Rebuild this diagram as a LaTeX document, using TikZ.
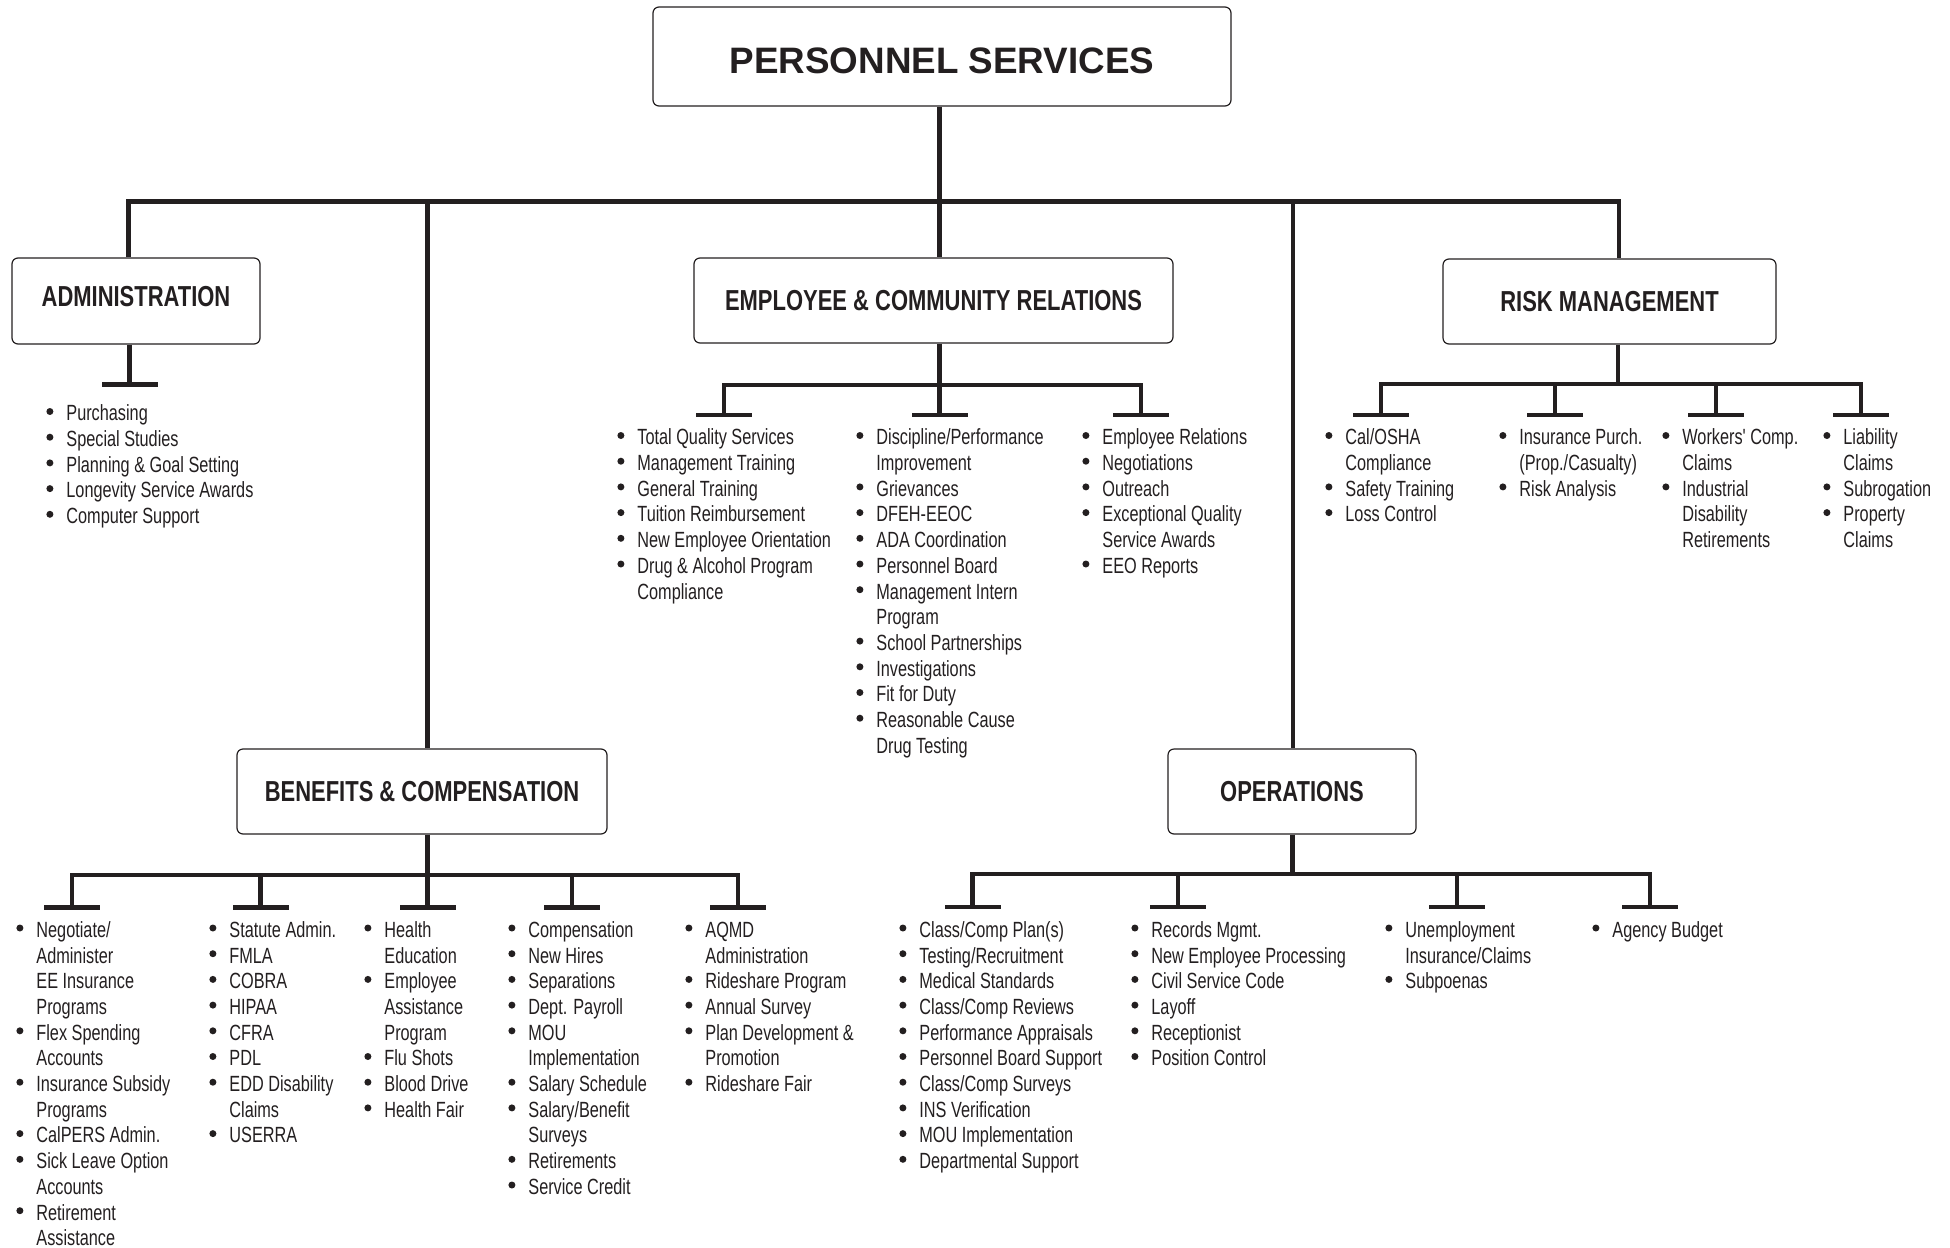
\documentclass[tikz,border=0pt]{standalone}
\usepackage{fontspec}
\newfontfamily\bodyfont[FakeStretch=0.74]{Liberation Sans}
\newfontfamily\headfont[FakeStretch=0.76]{Liberation Sans}
\newfontfamily\titlefont{Liberation Sans}
\definecolor{ink}{HTML}{231F20}
\newcommand\bi{\makebox[10pt][l]{\tikz[baseline=0pt]\fill[ink] (1.75pt,4.65pt) circle[radius=1.75pt];}}
\newcommand\ci{\hspace*{10pt}}
\newcommand\fs{\rule{0pt}{8.2pt}}
\begin{document}
\begin{tikzpicture}[x=0.5pt,y=-0.5pt,
  box/.style={draw=ink,line width=0.6pt,rounded corners=3pt,inner sep=0pt,
    font=\headfont\bfseries\fontsize{14.45pt}{17pt}\selectfont,text=ink},
  conn/.style={draw=ink,line width=2.4pt},
  tee/.style={fill=ink,minimum width=28pt,minimum height=2.4pt,inner sep=0pt,outer sep=0pt},
  lst/.style={anchor=north west,inner sep=0pt,align=left,text=ink,
    font=\bodyfont\fontsize{11pt}{12.85pt}\selectfont}]
\useasboundingbox (0,0) rectangle (1950,1248);

% ---- boxes
\node[box,minimum width=289pt,minimum height=49.5pt,
  font=\titlefont\bfseries\fontsize{18.4pt}{22pt}\selectfont] (ps) at (942,56.5)
  {\raisebox{-2.2pt}[\height][\depth]{PERSONNEL SERVICES}};
\node[box,minimum width=124pt,minimum height=43pt] (adm) at (136,301)
  {\raisebox{2.3pt}[\height][\depth]{ADMINISTRATION}};
\node[box,minimum width=239.5pt,minimum height=42.5pt] (ecr) at (933.5,300.5)
  {EMPLOYEE \& COMMUNITY RELATIONS};
\node[box,minimum width=166.5pt,minimum height=42.5pt] (rsk) at (1609.5,301.5)
  {RISK MANAGEMENT};
\node[box,minimum width=185pt,minimum height=42.5pt] (ben) at (422,791.5)
  {BENEFITS \& COMPENSATION};
\node[box,minimum width=124pt,minimum height=42.5pt] (ops) at (1292,791.5)
  {OPERATIONS};

% ---- main bar
\coordinate (mL) at (128.5,201.5);
\coordinate (mR) at (1619,201.5);
\coordinate (cx) at (939.5,201.5);
\coordinate (bx) at (427.5,201.5);
\coordinate (ox) at (1293,201.5);
\draw[conn] (mL |- adm.north) -- (mL) -- (mR) -- (mR |- rsk.north);
\draw[conn] (cx |- ps.south) -- (cx |- ecr.north);
\draw[conn] (bx) -- (bx |- ben.north);
\draw[conn] (ox) -- (ox |- ops.north);

% ---- administration
\node[tee] (a1) at (129.5,384.5) {};
\draw[conn] (adm.south -| a1) -- (a1.center);

% ---- employee & community relations
\coordinate (eb) at (0,385);
\node[tee] (e1) at (724,415) {};
\node[tee] (e2) at (939.5,415) {};
\node[tee] (e3) at (1141,415) {};
\draw[conn] (e1.center) -- (e1 |- eb) -- (e3 |- eb) -- (e3.center);
\draw[conn] (ecr.south -| e2) -- (e2.center);

% ---- risk management
\coordinate (rb) at (0,384);
\coordinate (rx) at (1618,384);
\node[tee] (r1) at (1381,415) {};
\node[tee] (r2) at (1555,415) {};
\node[tee] (r3) at (1716,415) {};
\node[tee] (r4) at (1861,415) {};
\draw[conn] (rsk.south -| rx) -- (rx);
\draw[conn] (r1.center) -- (r1 |- rb) -- (r4 |- rb) -- (r4.center);
\draw[conn] (r2 |- rb) -- (r2.center);
\draw[conn] (r3 |- rb) -- (r3.center);

% ---- benefits & compensation
\coordinate (bb) at (0,875);
\node[tee] (b1) at (72,907.5) {};
\node[tee] (b2) at (260.5,907.5) {};
\node[tee] (b3) at (427.5,907.5) {};
\node[tee] (b4) at (572,907.5) {};
\node[tee] (b5) at (738,907.5) {};
\draw[conn] (b1.center) -- (b1 |- bb) -- (b5 |- bb) -- (b5.center);
\draw[conn] (ben.south -| b3) -- (b3.center);
\draw[conn] (b2 |- bb) -- (b2.center);
\draw[conn] (b4 |- bb) -- (b4.center);

% ---- operations
\coordinate (ob) at (0,874);
\coordinate (ox2) at (1292.5,874);
\node[tee] (o1) at (972.5,907) {};
\node[tee] (o2) at (1178,907) {};
\node[tee] (o3) at (1457,907) {};
\node[tee] (o4) at (1650,907) {};
\draw[conn] (ops.south -| ox2) -- (ox2);
\draw[conn] (o1.center) -- (o1 |- ob) -- (o4 |- ob) -- (o4.center);
\draw[conn] (o2 |- ob) -- (o2.center);
\draw[conn] (o3 |- ob) -- (o3.center);

% ---- lists
\node[lst] (adm-l) at (46,404) {\fs\bi Purchasing\\ \bi Special Studies\\
  \bi Planning \& Goal Setting\\ \bi Longevity Service Awards\\ \bi Computer Support};

\node[lst] (ecr-l1) at (617,428) {\fs\bi Total Quality Services\\ \bi Management Training\\
  \bi General Training\\ \bi Tuition Reimbursement\\ \bi New Employee Orientation\\
  \bi Drug \& Alcohol Program\\ \ci Compliance};
\node[lst] (ecr-l2) at (856,428) {\fs\bi Discipline/Performance\\ \ci Improvement\\
  \bi Grievances\\ \bi DFEH-EEOC\\ \bi ADA Coordination\\ \bi Personnel Board\\
  \bi Management Intern\\ \ci Program\\ \bi School Partnerships\\ \bi Investigations\\
  \bi Fit for Duty\\ \bi Reasonable Cause\\ \ci Drug Testing};
\node[lst] (ecr-l3) at (1082,428) {\fs\bi Employee Relations\\ \bi Negotiations\\
  \bi Outreach\\ \bi Exceptional Quality\\ \ci Service Awards\\ \bi EEO Reports};

\node[lst] (rsk-l1) at (1325,428) {\fs\bi Cal/OSHA\\ \ci Compliance\\
  \bi Safety Training\\ \bi Loss Control};
\node[lst] (rsk-l2) at (1499,428) {\fs\bi Insurance Purch.\\ \ci (Prop./Casualty)\\
  \bi Risk Analysis};
\node[lst] (rsk-l3) at (1662,428) {\fs\bi Workers' Comp.\\ \ci Claims\\
  \bi Industrial\\ \ci Disability\\ \ci Retirements};
\node[lst] (rsk-l4) at (1823,428) {\fs\bi Liability\\ \ci Claims\\
  \bi Subrogation\\ \bi Property\\ \ci Claims};

\node[lst] (ben-l1) at (16,920.5) {\fs\bi Negotiate/\\ \ci Administer\\ \ci EE Insurance\\
  \ci Programs\\ \bi Flex Spending\\ \ci Accounts\\ \bi Insurance Subsidy\\ \ci Programs\\
  \bi CalPERS Admin.\\ \bi Sick Leave Option\\ \ci Accounts\\ \bi Retirement\\ \ci Assistance};
\node[lst] (ben-l2) at (209,920.5) {\fs\bi Statute Admin.\\ \bi FMLA\\ \bi COBRA\\
  \bi HIPAA\\ \bi CFRA\\ \bi PDL\\ \bi EDD Disability\\ \ci Claims\\ \bi USERRA};
\node[lst] (ben-l3) at (364,920.5) {\fs\bi Health\\ \ci Education\\ \bi Employee\\
  \ci Assistance\\ \ci Program\\ \bi Flu Shots\\ \bi Blood Drive\\ \bi Health Fair};
\node[lst] (ben-l4) at (508,920.5) {\fs\bi Compensation\\ \bi New Hires\\ \bi Separations\\
  \bi Dept. Payroll\\ \bi MOU\\ \ci Implementation\\ \bi Salary Schedule\\
  \bi Salary/Benefit\\ \ci Surveys\\ \bi Retirements\\ \bi Service Credit};
\node[lst] (ben-l5) at (685,920.5) {\fs\bi AQMD\\ \ci Administration\\
  \bi Rideshare Program\\ \bi Annual Survey\\ \bi Plan Development \&\\ \ci Promotion\\
  \bi Rideshare Fair};

\node[lst] (ops-l1) at (899,920.5) {\fs\bi Class/Comp Plan(s)\\ \bi Testing/Recruitment\\
  \bi Medical Standards\\ \bi Class/Comp Reviews\\ \bi Performance Appraisals\\
  \bi Personnel Board Support\\ \bi Class/Comp Surveys\\ \bi INS Verification\\
  \bi MOU Implementation\\ \bi Departmental Support};
\node[lst] (ops-l2) at (1131,920.5) {\fs\bi Records Mgmt.\\ \bi New Employee Processing\\
  \bi Civil Service Code\\ \bi Layoff\\ \bi Receptionist\\ \bi Position Control};
\node[lst] (ops-l3) at (1385,920.5) {\fs\bi Unemployment\\ \ci Insurance/Claims\\
  \bi Subpoenas};
\node[lst] (ops-l4) at (1592,920.5) {\fs\bi Agency Budget};
\end{tikzpicture}
\end{document}
